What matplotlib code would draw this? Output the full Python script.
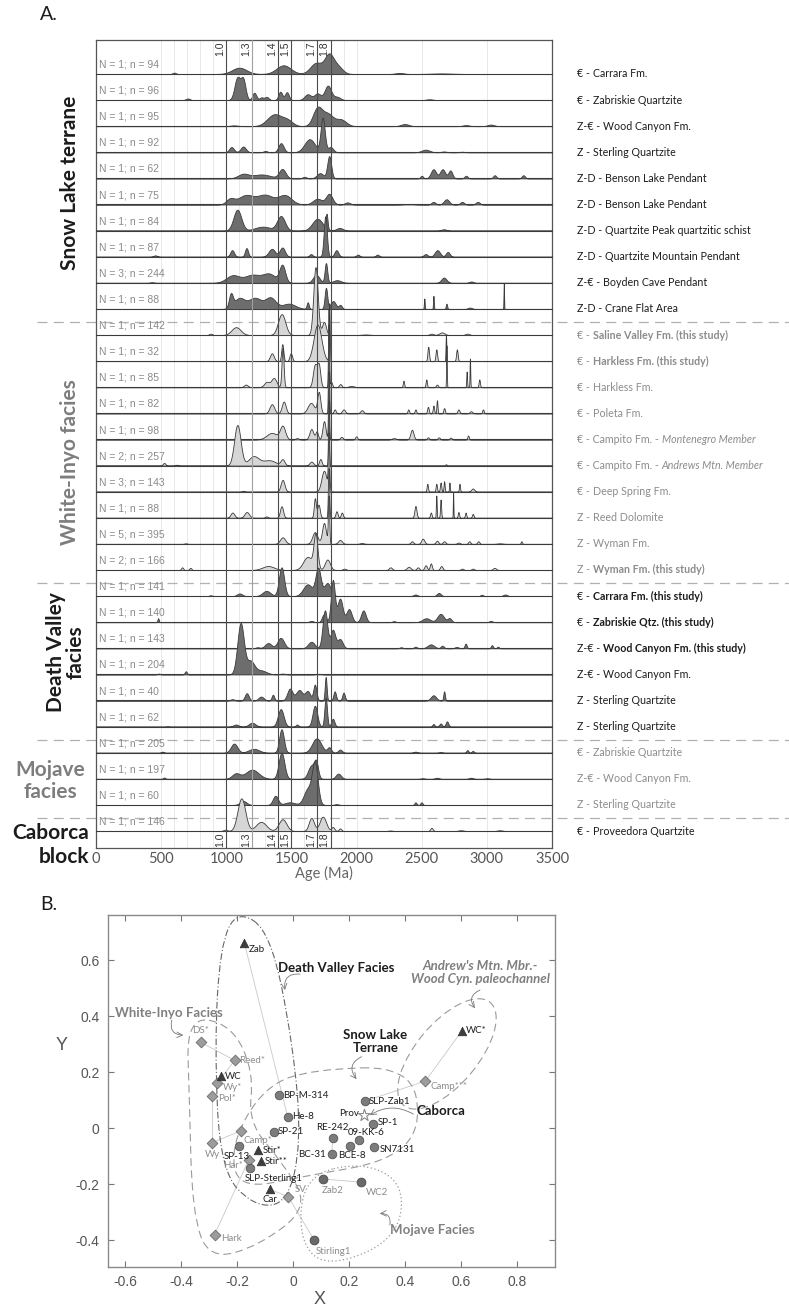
import numpy as np
import matplotlib
matplotlib.use('Agg')
import matplotlib.pyplot as plt
from matplotlib.path import Path
from matplotlib.patches import PathPatch, Ellipse
from matplotlib.transforms import blended_transform_factory

# ---------------- panel A data ----------------
# peaks: (age Ma, height in row units, width Ma)
snow_lake_peaks = [
    [(600, .05, 12), (1100, .24, 55), (1440, .33, 55), (1690, .42, 45), (1790, .72, 35), (1860, .25, 35), (2330, .04, 30), (2650, .02, 80)],
    [(705, .06, 15), (1085, .85, 22), (1130, .75, 18), (1215, .28, 15), (1270, .1, 15), (1310, .12, 15), (1415, .32, 15), (1465, .3, 15),
     (1625, .22, 25), (1700, .25, 25), (1780, .55, 25), (1850, .12, 25), (2560, .03, 25)],
    [(1060, .03, 30), (1370, .45, 55), (1470, .2, 40), (1700, .68, 35), (1780, .45, 40), (1880, .25, 40), (2370, .08, 30), (2840, .04, 25), (3030, .06, 25)],
    [(1040, .2, 18), (1130, .22, 20), (1300, .05, 15), (1420, .35, 20), (1640, .5, 40), (1740, 1.3, 16), (1800, .2, 20), (2530, .1, 30),
     (2670, .03, 20), (2810, .02, 20)],
    [(1130, .16, 40), (1270, .15, 70), (1430, .35, 25), (1600, .06, 15), (1720, .2, 25), (1790, .85, 15), (2500, .1, 10), (2590, .35, 20),
     (2660, .35, 20), (2720, .3, 15), (2840, .1, 12), (3060, .12, 12), (3280, .12, 12)],
    [(1030, .2, 30), (1150, .35, 60), (1300, .36, 60), (1450, .35, 50), (1700, .22, 35), (1790, .4, 25), (1930, .08, 20), (2400, .02, 40),
     (2590, .1, 15), (2690, .2, 20), (2810, .1, 15), (2930, .1, 15)],
    [(1085, .8, 30), (1280, .15, 60), (1420, .55, 30), (1700, .45, 40), (1770, .55, 7), (1870, .1, 25), (2670, .05, 20)],
    [(455, .05, 15), (1045, .25, 15), (1155, .33, 12), (1350, .3, 25), (1430, .35, 20), (1650, .1, 12), (1760, 1.55, 12), (1845, .25, 15),
     (2010, .08, 12), (2160, .08, 12), (2530, .1, 15), (2620, .25, 20), (2700, .18, 15)],
    [(430, .02, 15), (1050, .28, 50), (1200, .3, 60), (1330, .33, 50), (1430, .65, 22), (1690, .3, 25), (1765, .75, 10), (1850, .1, 30),
     (2670, .2, 20), (2880, .05, 15)],
    [(1035, .5, 15), (1100, .4, 40), (1220, .42, 50), (1340, .42, 40), (1480, .2, 50), (1625, .25, 8), (1765, .8, 10), (1820, .3, 20),
     (1875, .15, 12), (2520, .4, 3), (2590, .5, 3), (2690, .2, 5), (2870, .05, 15), (3130, 1.0, 2)],
]
white_inyo_peaks = [
    [(880, .05, 12), (1075, .3, 35), (1425, .8, 28), (1685, 2.6, 17), (1750, .5, 15), (2070, .02, 30), (2575, .05, 15), (2655, .1, 20), (2850, .05, 15)],
    [(1350, .3, 15), (1430, .65, 8), (1495, .3, 10), (1700, 1.4, 30), (1790, 2.2, 4), (2550, .55, 6), (2612, .45, 6), (2686, 1.0, 3), (2770, .45, 6)],
    [(1150, .1, 15), (1310, .2, 20), (1365, .35, 20), (1432, 1.5, 8), (1680, .85, 15), (1710, .8, 12), (1785, 3.0, 4), (1805, .2, 8),
     (1875, .12, 10), (1960, .05, 20), (2360, .25, 5), (2535, .3, 5), (2617, .1, 8), (2690, 1.6, 2.5), (2845, .6, 3), (2870, 1.1, 2.5), (2942, .3, 5)],
    [(1350, .35, 18), (1441, .45, 15), (1650, .4, 25), (1710, .8, 12), (1785, 3.4, 4), (1832, .15, 8), (1900, .15, 12), (2040, .12, 12),
     (2397, .15, 6), (2452, .15, 6), (2548, .25, 6), (2590, .3, 5), (2617, .5, 4), (2672, .2, 6), (2782, .15, 8), (2878, .08, 10), (2970, .15, 6)],
    [(1350, .25, 40), (1432, .5, 20), (1543, .05, 12), (1653, .4, 15), (1694, .3, 10), (1750, .7, 12), (1785, 2.6, 4), (1884, .1, 10),
     (1997, .12, 8), (2287, .05, 15), (2425, .37, 12), (2548, .08, 8), (2631, .08, 8), (2722, .07, 8), (2856, .15, 6)],
    [(523, .1, 10), (620, .03, 10), (1085, 1.55, 25), (1210, .35, 40), (1330, .2, 50), (1432, .22, 15), (1653, .15, 15), (1722, .25, 10),
     (1785, 2.5, 4), (2686, .05, 5)],
    [(1130, .03, 10), (1432, .45, 15), (1750, .8, 20), (1785, 2.1, 5), (2543, .3, 5), (2612, .3, 5), (2645, .35, 5), (2672, .4, 4),
     (2713, .35, 3), (2790, .3, 4), (2892, .12, 12)],
    [(1047, .2, 15), (1157, .22, 18), (1308, .05, 10), (1424, .44, 12), (1680, .74, 8), (1708, .5, 10), (1785, 1.9, 5), (1846, .25, 8),
     (1887, .2, 8), (2452, .45, 8), (2570, .2, 6), (2612, .85, 3), (2645, .7, 4), (2741, .97, 2), (2782, .22, 5), (2837, .2, 5), (2892, .15, 6)],
    [(689, .02, 10), (1432, .25, 20), (1680, .45, 20), (1750, .8, 15), (1785, 1.8, 5), (1873, .15, 15), (2040, .03, 15), (2425, .1, 10),
     (2508, .2, 12), (2617, .12, 10), (2672, .1, 10), (2782, .05, 10), (2865, .1, 8), (2934, .1, 8), (3100, .02, 20), (3265, .1, 5)],
    [(661, .1, 8), (724, .08, 8), (1322, .15, 45), (1625, .5, 35), (1685, 1.3, 15), (1776, .4, 20), (1906, .05, 12), (2260, .1, 12),
     (2400, .12, 15), (2470, .1, 10), (2530, .18, 10), (2570, .25, 8), (2650, .15, 10), (2810, .05, 10), (2892, .05, 10), (3058, .08, 12)],
]
death_valley_peaks = [
    [(880, .03, 12), (1102, .1, 20), (1308, .2, 30), (1424, 1.1, 20), (1625, .45, 35), (1705, 1.05, 20), (1776, .5, 25), (2452, .06, 15),
     (2631, .12, 15), (2961, .05, 10), (3140, .06, 15)],
    [(477, .15, 5), (1653, .05, 15), (1749, .3, 15), (1818, 1.6, 15), (1873, .9, 20), (1942, .5, 20), (2052, .45, 18), (2287, .04, 12),
     (2535, .15, 30), (2645, .32, 25), (2713, .15, 15), (3030, .05, 12)],
    [(1240, .04, 15), (1322, .2, 25), (1418, .4, 25), (1653, .25, 25), (1757, 1.45, 18), (1818, .7, 18), (1873, .35, 20), (2342, .04, 12),
     (2452, .06, 12), (2570, .15, 25), (2658, .1, 12), (2768, .05, 15), (2837, .18, 8), (3039, .12, 8), (3085, .06, 8)],
    [(482, .03, 10), (689, .12, 8), (1110, 1.95, 25), (1185, .5, 30), (1267, .15, 40), (1432, .03, 20), (1708, .02, 20)],
    [(1047, .05, 15), (1157, .28, 15), (1267, .15, 20), (1358, .22, 10), (1488, .45, 20), (1560, .4, 25), (1625, .35, 20), (1680, .6, 12),
     (1763, .9, 7), (1832, .35, 10), (1900, .3, 10), (2590, .2, 20), (2672, .35, 6)],
    [(550, .01, 10), (1074, .08, 20), (1198, .15, 25), (1418, .67, 22), (1543, .08, 10), (1680, .8, 18), (1763, 1.1, 10), (1818, .3, 12),
     (2590, .1, 8), (2645, .12, 10), (2694, .2, 10)],
]
mojave_peaks = [
    [(510, .04, 10), (1060, .35, 25), (1212, .15, 40), (1424, .9, 18), (1694, .55, 35), (1790, .2, 15), (1873, .12, 15), (2452, .04, 15),
     (2645, .02, 15), (2850, .1, 8), (2892, .07, 8)],
    [(523, .05, 8), (1074, .2, 30), (1198, .35, 50), (1424, 1.0, 22), (1653, .5, 25), (1690, .55, 15), (1860, .2, 20), (2507, .02, 15),
     (2617, .04, 15), (2878, .04, 15), (3003, .02, 15)],
    [(1130, .15, 25), (1377, .35, 20), (1488, .1, 40), (1625, .6, 30), (1680, 1.55, 22), (1846, .03, 15), (2452, .1, 8), (2498, .1, 8)],
]
caborca_peaks = [
    [(992, .05, 15), (1116, 1.25, 30), (1267, .35, 40), (1432, .45, 30), (1653, .5, 20), (1741, .55, 25), (1818, .15, 12), (1873, .1, 10),
     (2259, .02, 15), (2575, .12, 10), (2800, .03, 20), (3100, .03, 20)],
]

N_vals = [1, 1, 1, 1, 1, 1, 1, 1, 3, 1,
          1, 1, 1, 1, 1, 2, 3, 1, 5, 2,
          1, 1, 1, 1, 1, 1,
          1, 1, 1,
          1]
n_vals = [94, 96, 95, 92, 62, 75, 84, 87, 244, 88,
          142, 32, 85, 82, 98, 257, 143, 88, 395, 166,
          141, 140, 143, 204, 40, 62,
          205, 197, 60,
          146]

right_prefix = ['€ - ', '€ - ', 'Z-€ - ', 'Z - ', 'Z-D - ', 'Z-D - ', 'Z-D - ', 'Z-D - ', 'Z-€ - ', 'Z-D - ',
                '€ - ', '€ - ', '€ - ', '€ - ', '€ - Campito Fm. - ', '€ - Campito Fm. - ', '€ - ', 'Z - ', 'Z - ', 'Z - ',
                '€ - ', '€ - ', 'Z-€ - ', 'Z-€ - ', 'Z - ', 'Z - ',
                '€ - ', 'Z-€ - ', 'Z - ',
                '€ - ']
right_main = ['Carrara Fm.', 'Zabriskie Quartzite', 'Wood Canyon Fm.', 'Sterling Quartzite', 'Benson Lake Pendant',
              'Benson Lake Pendant', 'Quartzite Peak quartzitic schist', 'Quartzite Mountain Pendant', 'Boyden Cave Pendant',
              'Crane Flat Area',
              'Saline Valley Fm. (this study)', 'Harkless Fm. (this study)', 'Harkless Fm.', 'Poleta Fm.', 'Montenegro Member',
              'Andrews Mtn. Member', 'Deep Spring Fm.', 'Reed Dolomite', 'Wyman Fm.', 'Wyman Fm. (this study)',
              'Carrara Fm. (this study)', 'Zabriskie Qtz. (this study)', 'Wood Canyon Fm. (this study)', 'Wood Canyon Fm.',
              'Sterling Quartzite', 'Sterling Quartzite',
              'Zabriskie Quartzite', 'Wood Canyon Fm.', 'Sterling Quartzite',
              'Proveedora Quartzite']
right_style = ['n'] * 10 + ['b', 'b', 'n', 'n', 'i', 'i', 'n', 'n', 'n', 'b'] + ['b', 'b', 'b', 'n', 'n', 'n'] + ['n'] * 3 + ['n']

ref_ages = [1000, 1200, 1400, 1500, 1700, 1800]
ref_labels = ['1.0', '1.3', '1.4', '1.5', '1.7', '1.8']

# ---------------- panel B data ----------------
wi_names = ['DS*', 'Reed*', 'Wy*', 'Pol*', 'Camp*', 'Wy', 'Har*', 'Hark', 'SV', 'Camp***']
wi_x = [-0.329, -0.208, -0.271, -0.289, -0.187, -0.289, -0.158, -0.280, -0.017, 0.473]
wi_y = [0.306, 0.242, 0.161, 0.114, -0.010, -0.052, -0.113, -0.380, -0.245, 0.168]
dv_names = ['Zab', 'WC', 'Stir*', 'Stir**', 'Car', 'WC*']
dv_x = [-0.174, -0.257, -0.124, -0.115, -0.082, 0.604]
dv_y = [0.662, 0.186, -0.079, -0.118, -0.219, 0.348]
sl_names = ['BP-M-314', 'SLP-Zab1', 'He-8', 'SP-1', 'SP-21', 'RE-242', '09-KK-6', 'BCE-8', 'SN7131', 'SP-13', 'BC-31', 'SLP-Sterling1']
sl_x = [-0.049, 0.256, -0.019, 0.287, -0.068, 0.142, 0.237, 0.204, 0.290, -0.192, 0.138, -0.154]
sl_y = [0.118, 0.096, 0.040, 0.013, -0.013, -0.037, -0.044, -0.063, -0.068, -0.064, -0.094, -0.144]
mj_names = ['Zab2', 'WC2', 'Stirling1']
mj_x = [0.108, 0.242, 0.075]
mj_y = [-0.182, -0.193, -0.399]
cb_names = ['Prov']
cb_x = [0.254]
cb_y = [0.046]

links = [('DS*', 'Reed*'), ('Reed*', 'Wy*'), ('Pol*', 'Wy'), ('Wy', 'Camp*'), ('Hark', 'Har*'), ('SV', 'Stirling1'),
         ('Zab2', 'WC2'), ('Zab', 'He-8'), ('SLP-Zab1', 'Camp***'), ('Camp***', 'WC*'), ('RE-242', 'BC-31'), ('Car', 'SV')]

# ---------------- figure ----------------
W, H = 789, 1310
fig = plt.figure(figsize=(W / 100, H / 100), dpi=100)
LAB = ['Lato', 'DejaVu Sans']
HEL = ['Liberation Sans', 'DejaVu Sans']
BLACK = '#1c1c1c'
GREY = '#8c8c8c'


def fx(px):
    return px / W


def fy(py):
    return 1 - py / H


axA = fig.add_axes([fx(96), fy(848), (552 - 96) / W, (848 - 40) / H])
axA.set_xlim(0, 3500)
axA.set_ylim(-29.65, 1.30)
axA.set_yticks([])
axA.set_xticks(range(0, 3501, 500))
axA.set_xticklabels([str(v) for v in range(0, 3501, 500)], fontsize=10.5, color='#555', family=LAB)
axA.tick_params(axis='x', length=0, pad=3)
for s in axA.spines.values():
    s.set_color('#555')
    s.set_linewidth(0.9)
axA.set_xlabel('Age (Ma)', fontsize=10.5, color='#666', family=LAB, labelpad=0)

for v in list(range(500, 2001, 100)) + [2500, 3000]:
    axA.axvline(v, color='#e4e4e4', lw=0.6, zorder=0.5)

all_peaks = snow_lake_peaks + white_inyo_peaks + death_valley_peaks + mojave_peaks + caborca_peaks
groups = ['sl'] * 10 + ['wi'] * 10 + ['dv'] * 6 + ['mj'] * 3 + ['cb']
fill_col = {'sl': '#6d6d6d', 'wi': '#d6d6d6', 'dv': '#6d6d6d', 'mj': '#6d6d6d', 'cb': '#d6d6d6'}
text_col = {'sl': BLACK, 'wi': GREY, 'dv': BLACK, 'mj': GREY, 'cb': BLACK}

ages = np.arange(0, 3501, 1.0)
for k, peaks in enumerate(all_peaks):
    dens = np.zeros_like(ages)
    for a, h, w in peaks:
        dens += h * np.exp(-0.5 * ((ages - a) / w) ** 2)
    base = -k
    axA.axhline(base, color='#555', lw=0.8, zorder=2 + 2 * k)
    axA.fill_between(ages, base, base + dens, facecolor=fill_col[groups[k]], edgecolor='#3a3a3a',
                     lw=0.6, zorder=3 + 2 * k)
    axA.text(25, base + 0.36, f'N = {N_vals[k]}; n = {n_vals[k]}', fontsize=7.5, color='#8a8a8a',
             family=HEL, va='center', ha='left', zorder=200)

for a, lab in zip(ref_ages, ref_labels):
    c = '#a0a0a0' if a == 1200 else '#4a4a4a'
    axA.axvline(a, color=c, lw=0.8, zorder=150)
    axA.text(a - 12, 1.24, lab, rotation=90, ha='right', va='top', fontsize=7.5, color='#333', family=HEL, zorder=200)
    axA.text(a - 12, -29.6, lab, rotation=90, ha='right', va='bottom', fontsize=7.5, color='#333', family=HEL, zorder=200)

# right-hand labels with mixed styles
tr = blended_transform_factory(fig.transFigure, axA.transData)
for k in range(len(right_main)):
    col = text_col[groups[k]]
    t = axA.text(fx(577), -k, right_prefix[k], transform=tr, fontsize=7.7, family=LAB, color=col,
                 ha='left', va='center', clip_on=False)
    st = right_style[k]
    axA.annotate(right_main[k], xy=(1, 0), xycoords=t, ha='left', va='bottom', fontsize=7.7, family=LAB, color=col,
                 fontweight='bold' if st == 'b' else 'normal', fontstyle='italic' if st == 'i' else 'normal',
                 annotation_clip=False)

# group separators
for yb in [-9.5, -19.5, -25.5, -28.5]:
    axA.plot([fx(37), 1.0], [yb, yb], transform=tr, color='#b0b0b0', lw=0.9, dashes=(8, 5), clip_on=False)

# group names
fig.text(fx(70), fy(183), 'Snow Lake terrane', rotation=90, ha='center', va='center', fontsize=15,
         fontweight='bold', color=BLACK, family=LAB)
fig.text(fx(70), fy(462), 'White-Inyo facies', rotation=90, ha='center', va='center', fontsize=15,
         fontweight='bold', color='#7d7d7d', family=LAB)
fig.text(fx(66), fy(652), 'Death Valley\nfacies', rotation=90, ha='center', va='center', fontsize=15,
         fontweight='bold', color=BLACK, family=LAB, multialignment='center', linespacing=1.0)
fig.text(fx(50), fy(781), 'Mojave\nfacies', ha='center', va='center', fontsize=15,
         fontweight='bold', color='#7d7d7d', family=LAB, multialignment='center', linespacing=1.1)
fig.text(fx(89), fy(833), 'Caborca', ha='right', va='center', fontsize=15, fontweight='bold', color=BLACK, family=LAB)
fig.text(fx(89), fy(857), 'block', ha='right', va='center', fontsize=15, fontweight='bold', color=BLACK, family=LAB)

fig.text(fx(40), fy(15), 'A.', ha='left', va='center', fontsize=14, color=BLACK, family=LAB)
fig.text(fx(40), fy(905), 'B.', ha='left', va='center', fontsize=14, color=BLACK, family=LAB)

# ---------------- panel B ----------------
axB = fig.add_axes([fx(108), fy(1267), (555 - 108) / W, (1267 - 915) / H])
axB.set_xlim(-0.661, 0.936)
axB.set_ylim(-0.496, 0.761)
xt = [-0.6, -0.4, -0.2, 0, 0.2, 0.4, 0.6, 0.8]
yt = [-0.4, -0.2, 0, 0.2, 0.4, 0.6]
axB.set_xticks(xt)
axB.set_xticklabels(['-0.6', '-0.4', '-0.2', '0', '0.2', '0.4', '0.6', '0.8'], family=HEL)
axB.set_yticks(yt)
axB.set_yticklabels(['-0.4', '-0.2', '0', '0.2', '0.4', '0.6'], family=HEL)
axB.tick_params(direction='in', top=True, right=True, length=4, color='#777', labelcolor='#555', labelsize=10, pad=6)
for s in axB.spines.values():
    s.set_color('#8a8a8a')
    s.set_linewidth(1.0)
axB.set_xlabel('X', fontsize=13, color='#555', family=HEL)
axB.xaxis.set_label_coords((320 - 108) / 447, (1267 - 1291) / 352)
axB.set_ylabel('Y', fontsize=13, color='#555', family=HEL, rotation=0, va='center')
axB.yaxis.set_label_coords((62 - 108) / 447, (1267 - 1045) / 352)

pos = {}
for names, xs, ys in [(wi_names, wi_x, wi_y), (dv_names, dv_x, dv_y), (sl_names, sl_x, sl_y),
                      (mj_names, mj_x, mj_y), (cb_names, cb_x, cb_y)]:
    for n, x, y in zip(names, xs, ys):
        pos[n] = (x, y)
for a, b in links:
    axB.plot([pos[a][0], pos[b][0]], [pos[a][1], pos[b][1]], color='#c8c8c8', lw=0.6, zorder=1)


def smooth_closed(pts):
    pts = np.asarray(pts, float)
    mids = (pts + np.roll(pts, -1, axis=0)) / 2
    verts = [mids[0]]
    codes = [Path.MOVETO]
    n = len(pts)
    for i in range(1, n + 1):
        verts += [pts[i % n], mids[i % n]]
        codes += [Path.CURVE3, Path.CURVE3]
    return Path(verts, codes)


env_wi = [(-0.38, 0.40), (-0.22, 0.37), (-0.14, 0.20), (-0.16, 0.02), (-0.04, -0.12), (0.06, -0.28),
          (-0.12, -0.42), (-0.30, -0.47), (-0.36, -0.30), (-0.37, 0.10)]
env_dv = [(-0.20, 0.78), (-0.08, 0.70), (0.0, 0.30), (0.03, -0.05), (-0.02, -0.27), (-0.14, -0.28),
          (-0.26, -0.15), (-0.28, 0.30), (-0.26, 0.65)]
env_sl = [(0.07, 0.21), (0.42, 0.22), (0.46, 0.0), (0.34, -0.12), (0.05, -0.17), (-0.2, -0.22),
          (-0.22, -0.05), (-0.1, 0.15)]
env_mj = [(0.04, -0.17), (0.25, -0.12), (0.40, -0.20), (0.37, -0.40), (0.12, -0.50), (0.02, -0.40)]

axB.add_patch(PathPatch(smooth_closed(env_wi), fill=False, ec='#9a9a9a', lw=0.8, ls=(0, (7, 4)), zorder=2))
axB.add_patch(PathPatch(smooth_closed(env_dv), fill=False, ec='#666', lw=0.8, ls=(0, (6, 2, 1, 2)), zorder=2))
axB.add_patch(PathPatch(smooth_closed(env_sl), fill=False, ec='#9a9a9a', lw=0.8, ls=(0, (7, 4)), zorder=2))
axB.add_patch(PathPatch(smooth_closed(env_mj), fill=False, ec='#9a9a9a', lw=0.9, ls=(0, (1, 2)), zorder=2))
axB.add_patch(Ellipse((0.55, 0.265), 0.48, 0.22, angle=50, fill=False, ec='#9a9a9a', lw=0.8, ls=(0, (7, 4)), zorder=2))

axB.scatter(wi_x, wi_y, marker='D', s=30, c='#9c9c9c', edgecolors='#6a6a6a', linewidths=0.6, zorder=5)
axB.scatter(sl_x, sl_y, marker='o', s=38, c='#7c7c7c', edgecolors='#555', linewidths=0.6, zorder=5)
axB.scatter(mj_x, mj_y, marker='o', s=40, c='#6a6a6a', edgecolors='#4a4a4a', linewidths=0.6, zorder=5)
axB.scatter(dv_x, dv_y, marker='^', s=38, c='#3e3e3e', edgecolors='#2a2a2a', linewidths=0.5, zorder=5)
axB.scatter(cb_x, cb_y, marker='*', s=80, c='white', edgecolors='#8a8a8a', linewidths=0.8, zorder=5)

label_off = {
    'DS*': (0, 5, 'center', 'bottom'), 'Zab': (3, -5, 'left', 'center'), 'Wy*': (4, -3, 'left', 'center'),
    'Pol*': (4, -2, 'left', 'center'), 'Camp*': (2, -7, 'left', 'center'), 'Wy': (0, -5, 'center', 'top'),
    'SP-13': (-2, -4, 'center', 'top'), 'Har*': (-4, -4, 'right', 'center'), 'Hark': (5, -3, 'left', 'center'),
    'SV': (5, 5, 'left', 'center'), 'Car': (0, -4, 'center', 'top'), 'Zab2': (7, -5, 'center', 'top'),
    'WC2': (12, -4, 'center', 'top'), 'Stirling1': (14, -5, 'center', 'top'), 'Prov': (-4, 1, 'right', 'center'),
    'RE-242': (0, 5, 'center', 'bottom'), '09-KK-6': (5, 2.5, 'center', 'bottom'), 'BC-31': (-4, 0, 'right', 'center'),
    'BCE-8': (1, -4, 'center', 'top'), 'SN7131': (4, -2, 'left', 'center'), 'SLP-Sterling1': (17, -4, 'center', 'top'),
    'Camp***': (4, -4, 'left', 'center'), 'SP-1': (3, 1.5, 'left', 'center'),
}
for names, col in [(wi_names, GREY), (mj_names, GREY), (dv_names, BLACK), (sl_names, BLACK), (cb_names, BLACK)]:
    for n in names:
        dx, dy, ha, va = label_off.get(n, (3, 0, 'left', 'center'))
        axB.annotate(n, pos[n], xytext=(dx, dy), textcoords='offset points', ha=ha, va=va,
                     fontsize=7, color=col, family=LAB, zorder=6)


# facies call-outs
def callout(txt, xy_text, col, start, end, style='normal', ha='left', rad=0.6):
    axB.text(xy_text[0], xy_text[1], txt, fontsize=9.5, fontweight='bold', fontstyle=style, color=col,
             family=LAB, ha=ha, va='center', multialignment='center', linespacing=1.1, zorder=7)
    axB.annotate('', xy=end, xytext=start,
                 arrowprops=dict(arrowstyle='->', color='#777', lw=0.6, shrinkA=0, shrinkB=0,
                                 connectionstyle=f'arc3,rad={rad}'))


callout('Death Valley Facies', (-0.054, 0.571), BLACK, (0.025, 0.550), (-0.029, 0.493))
callout('White-Inyo Facies', (-0.636, 0.41), '#808080', (-0.433, 0.386), (-0.392, 0.332))
callout('Snow Lake\nTerrane', (0.18, 0.31), BLACK, (0.245, 0.255), (0.227, 0.175))
callout("Andrew's Mtn. Mbr.-\nWood Cyn. paleochannel", (0.67, 0.557), '#808080', (0.668, 0.493), (0.65, 0.428),
        style='italic', ha='center')
callout('Caborca', (0.44, 0.062), BLACK, (0.43, 0.05), (0.275, 0.046), rad=0.3)
callout('Mojave Facies', (0.346, -0.364), '#808080', (0.346, -0.346), (0.31, -0.305))

fig.savefig('out.png', dpi=100)
